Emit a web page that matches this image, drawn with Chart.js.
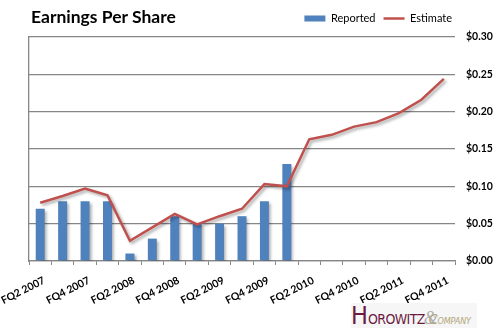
<!DOCTYPE html>
<html>
<head>
<meta charset="utf-8">
<script src="https://cdn.jsdelivr.net/npm/chart.js@4/dist/chart.umd.min.js"></script>
<style>
  html, body { margin: 0; padding: 0; background: #fff; }
  #wrap { position: relative; width: 499px; height: 334px; overflow: hidden; }
  #title {
    position: absolute; left: 31px; top: 6px;
    font: bold 17.5px Lato, "Open Sans", sans-serif; color: #000;
  }
  #logo {
    position: absolute; left: 351px; top: 303px; width: 126px; height: 25px;
    background: #f6f6f6; white-space: nowrap; overflow: hidden;
    font-family: "Liberation Sans Narrow", "DejaVu Sans Condensed", sans-serif;
    line-height: 25px;
  }
  #logo .h { color: #6d1a42; font-size: 25px; }
  #logo .o { color: #6d1a42; font-size: 14px; letter-spacing: -0.6px; }
  #logo .amp { color: #b0b0b0; font-size: 18px; font-style: italic; font-family: "Liberation Serif", serif; margin-left: -1px; }
  #logo .c { color: #b3a57a; font-size: 14px; font-style: italic; margin-left: -9px; }
  #logo .co { color: #b3a57a; font-size: 9px; font-style: italic; letter-spacing: -0.2px; }
</style>
</head>
<body>
<div id="wrap">
  <canvas id="eps" width="499" height="334"></canvas>
  <div id="title">Earnings Per Share</div>
  <div id="logo"><span class="h">H</span><span class="o">OROWITZ</span><span class="amp">&amp;</span><span class="c">C</span><span class="co">OMPANY</span></div>
</div>
<script>
// Quarters on the category axis
const quarters = [
  'FQ2 2007', 'FQ3 2007', 'FQ4 2007', 'FQ1 2008', 'FQ2 2008', 'FQ3 2008', 'FQ4 2008',
  'FQ1 2009', 'FQ2 2009', 'FQ3 2009', 'FQ4 2009', 'FQ1 2010', 'FQ2 2010', 'FQ3 2010',
  'FQ4 2010', 'FQ1 2011', 'FQ2 2011', 'FQ3 2011', 'FQ4 2011'
];

// Reported EPS (only through FQ1 2010)
const reported = [0.07, 0.08, 0.08, 0.08, 0.01, 0.03, 0.06, 0.05, 0.05, 0.06, 0.08, 0.13,
  null, null, null, null, null, null, null];

// Consensus estimate
const estimate = [0.078, 0.087, 0.097, 0.088, 0.027, 0.045, 0.063, 0.049, 0.060, 0.070, 0.103,
  0.100, 0.163, 0.169, 0.180, 0.186, 0.198, 0.216, 0.244];

// Right axis ticks
const yTicks = [0, 0.05, 0.10, 0.15, 0.20, 0.25, 0.30];

const GRID = '#868686';
const FONT = 'Lato, "Open Sans", sans-serif';

// soft drop shadow under bars and line
const shadowPlugin = {
  id: 'shadow',
  beforeDatasetDraw(chart) {
    const ctx = chart.ctx;
    ctx.save();
    ctx.shadowColor = 'rgba(0,0,0,0.35)';
    ctx.shadowBlur = 3;
    ctx.shadowOffsetX = 2;
    ctx.shadowOffsetY = 2;
  },
  afterDatasetDraw(chart) {
    chart.ctx.restore();
  }
};

// keep the legend over the plot, lined up with its right edge
const legendSpot = {
  id: 'legendSpot',
  afterLayout(chart) {
    const lg = chart.legend;
    lg.right = chart.chartArea.right + 5;
    lg.top -= 3;
    lg.bottom -= 3;
  }
};

new Chart(document.getElementById('eps'), {
  type: 'bar',
  data: {
    labels: quarters,
    datasets: [
      {
        label: 'Reported',
        data: reported,
        backgroundColor: '#4f81bd',
        borderWidth: 0,
        barPercentage: 0.4,
        categoryPercentage: 1,
        pointStyle: 'rect',
        yAxisID: 'y',
        order: 2
      },
      {
        type: 'line',
        label: 'Estimate',
        data: estimate,
        borderColor: '#c0504d',
        backgroundColor: '#c0504d',
        borderWidth: 2.5,
        pointRadius: 0,
        pointStyle: 'line',
        tension: 0,
        yAxisID: 'y',
        order: 1
      }
    ]
  },
  options: {
    responsive: false,
    animation: false,
    layout: { padding: { left: 29, right: 0, top: 8, bottom: 0 } },
    plugins: {
      tooltip: { enabled: false },
      legend: {
        position: 'top',
        align: 'end',
        labels: {
          usePointStyle: true,
          pointStyleWidth: 21,
          boxHeight: 6,
          padding: 8,
          color: '#000',
          font: { family: FONT, size: 11 },
          sort: function(a, b) { return a.datasetIndex - b.datasetIndex; }
        }
      }
    },
    scales: {
      x: {
        grid: { drawOnChartArea: false, drawTicks: true, tickLength: 4, color: GRID, offset: true },
        border: { color: GRID, width: 1.3 },
        ticks: {
          autoSkip: false,
          minRotation: 27,
          maxRotation: 27,
          padding: 9,
          labelOffset: 4,
          color: '#000',
          font: { family: FONT, size: 10.5, weight: 'bold' },
          callback: function(v, i) { return i % 2 === 0 ? quarters[i] : ''; }
        },
        afterFit: function(s) {
          s.height = 73;
          s.paddingLeft = 0;
          s.paddingRight = 0;
        }
      },
      y: {
        position: 'right',
        min: 0,
        max: 0.3,
        afterBuildTicks: function(s) { s.ticks = yTicks.map(v => ({ value: v })); },
        grid: { color: GRID, lineWidth: 1.3, drawTicks: false },
        border: { display: false },
        ticks: {
          padding: 11,
          color: '#000',
          font: { family: FONT, size: 10.5, weight: 'bold' },
          callback: function(v) { return '$' + v.toFixed(2); }
        },
        afterFit: function(s) { s.width = 44; }
      },
      yL: {
        position: 'left',
        min: 0,
        max: 0.3,
        grid: { display: false },
        border: { color: GRID, width: 1.3 },
        ticks: { display: false },
        afterFit: function(s) { s.width = 0; }
      }
    }
  },
  plugins: [shadowPlugin, legendSpot]
});
</script>
</body>
</html>
